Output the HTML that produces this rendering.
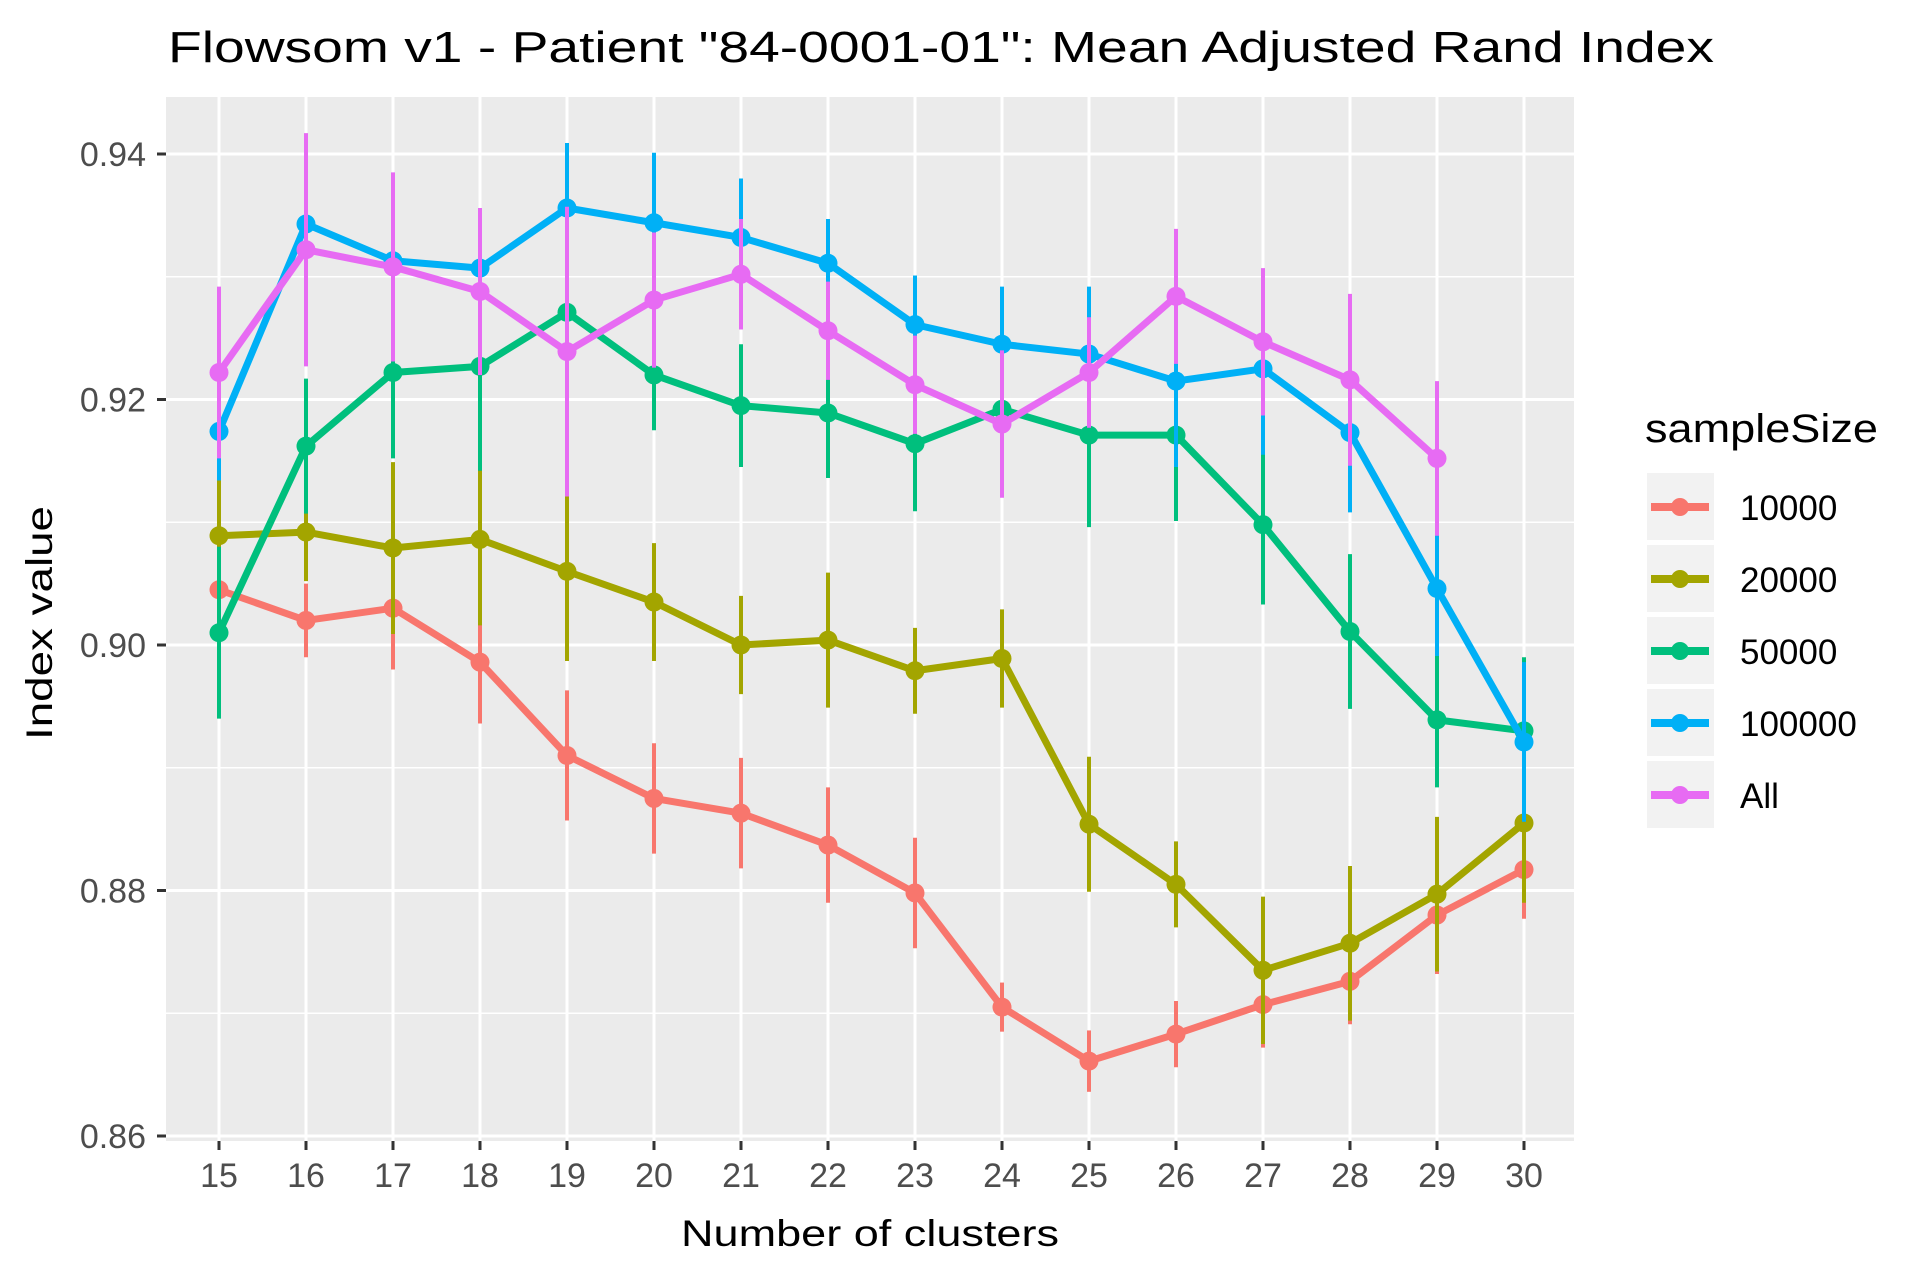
<!DOCTYPE html>
<html><head><meta charset="utf-8"><style>body{margin:0;background:#fff}svg{display:block;font-family:"Liberation Sans",Arial,sans-serif}</style></head>
<body>
<svg id="chart" width="1925" height="1271" viewBox="0 0 1925 1271" xmlns="http://www.w3.org/2000/svg">
<text x="168" y="62" font-size="44" textLength="1546" lengthAdjust="spacingAndGlyphs">Flowsom v1 - Patient "84-0001-01": Mean Adjusted Rand Index</text>
<rect x="166" y="97" width="1408" height="1044" fill="#ebebeb"/>
<g id="grid"></g><g id="series"></g><g id="axes"></g>
<text x="870" y="1246" font-size="37" text-anchor="middle" textLength="378" lengthAdjust="spacingAndGlyphs">Number of clusters</text>
<text transform="translate(52,623) rotate(-90)" font-size="37" text-anchor="middle" textLength="234" lengthAdjust="spacingAndGlyphs">Index value</text>
<text x="1645" y="442" font-size="40" textLength="233" lengthAdjust="spacingAndGlyphs">sampleSize</text>
<g id="legend"></g>
</svg>
<script>
const clusters=[15,16,17,18,19,20,21,22,23,24,25,26,27,28,29,30];
const seriesNames=["10000","20000","50000","100000","All"];
const seriesColors=["#F8766D","#A3A500","#00BF7D","#00B0F6","#E76BF3"];
const mean10000=[0.9045,0.902,0.903,0.8986,0.891,0.8875,0.8863,0.8837,0.8798,0.8705,0.8661,0.8683,0.8707,0.8726,0.878,0.8817];
const err10000=[0.0075,0.003,0.005,0.005,0.0053,0.0045,0.0045,0.0047,0.0045,0.002,0.0025,0.0027,0.0035,0.0035,0.0048,0.004];
const mean20000=[0.9089,0.9092,0.9079,0.9086,0.906,0.9035,0.900,0.9004,0.8979,0.8989,0.8854,0.8805,0.8735,0.8757,0.8797,0.8855];
const err20000=[0.005,0.004,0.007,0.007,0.0073,0.0048,0.004,0.0055,0.0035,0.004,0.0055,0.0035,0.006,0.0063,0.0063,0.0065];
const mean50000=[0.901,0.9162,0.9222,0.9227,0.9271,0.922,0.9195,0.9189,0.9164,0.9192,0.9171,0.9171,0.9098,0.9011,0.8939,0.893];
const err50000=[0.007,0.0055,0.007,0.0085,0.0035,0.0045,0.005,0.0053,0.0055,0.005,0.0075,0.007,0.0065,0.0063,0.0055,0.006];
const mean100000=[0.9174,0.9343,0.9313,0.9307,0.9356,0.9344,0.9332,0.9311,0.9261,0.9245,0.9237,0.9215,0.9225,0.9173,0.9046,0.8921];
const err100000=[0.004,0.005,0.004,0.0045,0.0053,0.0057,0.0048,0.0036,0.004,0.0047,0.0055,0.007,0.007,0.0065,0.0055,0.0065];
const meanAll=[0.9222,0.9322,0.9308,0.9288,0.9239,0.9281,0.9302,0.9256,0.9212,0.9180,0.9222,0.9284,0.9247,0.9216,0.9152];
const errAll=[0.007,0.0095,0.0077,0.0068,0.0118,0.0055,0.0045,0.004,0.004,0.006,0.0045,0.0055,0.006,0.007,0.0063];
const yTicks=[0.86,0.88,0.90,0.92,0.94];
const yTickLabels=["0.86","0.88","0.90","0.92","0.94"];
const yMinor=[0.87,0.89,0.91,0.93];

const NS="http://www.w3.org/2000/svg";
function xs(c){return 219+(c-15)*(1524-219)/15;}
function ys(v){return 154+(0.94-v)/0.02*245.5;}
function mk(tag,attrs,parent){const e=document.createElementNS(NS,tag);for(const k in attrs)e.setAttribute(k,attrs[k]);parent.appendChild(e);return e;}
const grid=document.getElementById('grid'),axes=document.getElementById('axes'),ser=document.getElementById('series'),leg=document.getElementById('legend');
yMinor.forEach(v=>{const l=mk('line',{x1:166,x2:1574,y1:ys(v),y2:ys(v),stroke:'#fff','stroke-width':1.5},grid);

});
yTicks.forEach((v,i)=>{const l=mk('line',{x1:166,x2:1574,y1:ys(v),y2:ys(v),stroke:'#fff','stroke-width':3},grid);


const t=mk('line',{x1:157,x2:166,y1:ys(v),y2:ys(v),stroke:'#333','stroke-width':3},axes);


const tx=mk('text',{x:146,y:ys(v)+12,'font-size':34,fill:'#4d4d4d','text-anchor':'end'},axes);tx.textContent=yTickLabels[i];

});
clusters.forEach(c=>{const l=mk('line',{x1:xs(c),x2:xs(c),y1:97,y2:1141,stroke:'#fff','stroke-width':3},grid);


const t=mk('line',{x1:xs(c),x2:xs(c),y1:1141,y2:1150,stroke:'#333','stroke-width':3},axes);


const tx=mk('text',{x:xs(c),y:1187,'font-size':34,fill:'#4d4d4d','text-anchor':'middle'},axes);tx.textContent=String(c);

});
const means=[mean10000,mean20000,mean50000,mean100000,meanAll];
const errs=[err10000,err20000,err50000,err100000,errAll];
means.forEach((m,s)=>{const col=seriesColors[s];const g=mk('g',{},ser);


m.forEach((v,i)=>{const e=errs[s][i];const b=mk('line',{x1:xs(clusters[i]),x2:xs(clusters[i]),y1:ys(v+e),y2:ys(v-e),stroke:col,'stroke-width':4},g);

});
const pts=m.map((v,i)=>xs(clusters[i])+','+ys(v)).join(' ');
const pl=mk('polyline',{points:pts,fill:'none',stroke:col,'stroke-width':7,'stroke-linejoin':'round'},g);


m.forEach((v,i)=>{const p=mk('circle',{cx:xs(clusters[i]),cy:ys(v),r:9.5,fill:col},g);

});});
seriesNames.forEach((n,i)=>{const cy=507+72*i;const g=mk('g',{},leg);


mk('rect',{x:1647,y:cy-34,width:67,height:67,fill:'#f2f2f2'},g);
mk('line',{x1:1651,x2:1709,y1:cy,y2:cy,stroke:seriesColors[i],'stroke-width':8},g);
mk('circle',{cx:1680,cy:cy,r:9,fill:seriesColors[i]},g);
const t=mk('text',{x:1740,y:cy+13,'font-size':35},g);t.textContent=n;});
</script>
</body></html>
